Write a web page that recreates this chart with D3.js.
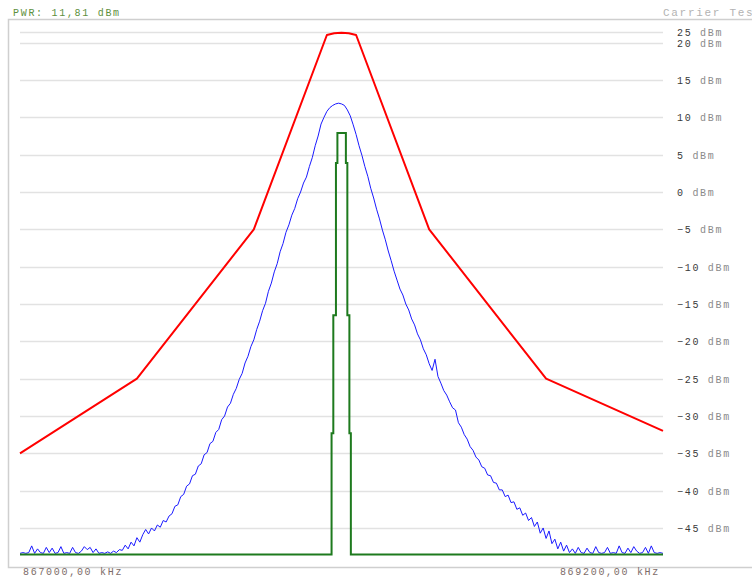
<!DOCTYPE html>
<html>
<head>
<meta charset="utf-8">
<script src="https://cdn.jsdelivr.net/npm/d3@7"></script>
<style>
  html, body { margin: 0; padding: 0; background: #fff; }
  svg { display: block; }
  text { font-family: "Liberation Mono", "DejaVu Sans Mono", monospace; font-size: 10px; letter-spacing: 1.7px; }
</style>
</head>
<body>
<div id="chart"></div>
<script>
// ---- data ----
const freqStart = 867000;
const freqStop = 869200;
const yTickValues = [25, 20, 15, 10, 5, 0, -5, -10, -15, -20, -25, -30, -35, -40, -45];
const xTickValues = [867000, 869200];
const xTickLabels = ["867000,00 kHz", "869200,00 kHz"];
const titleLeft = "PWR: 11,81 dBm";
const titleRight = "Carrier Test";

// limit mask (red)
const maskFreq  = [867000, 867400, 867800, 868050, 868075, 868100, 868125, 868150, 868400, 868800, 869200];
const maskLevel = [-35, -25, -5, 23.6, 24.4, 24.7, 24.4, 23.6, -5, -25, -32];

// measured spectrum (blue), one value every 10 kHz from 867000 kHz
const traceStepKHz = 10;
const traceLevel = [
  -48.4,-48.3,-48.4,-48.3,-47.4,-48.4,-47.8,-48.3,-48.4,-47.6,
  -48.3,-47.7,-48.4,-48.3,-47.5,-48.4,-48.3,-48.4,-47.6,-48.3,
  -48.4,-48.1,-47.5,-47.9,-47.6,-48.3,-47.8,-48.4,-48.3,-48.4,
  -48.2,-48.4,-48.1,-48.3,-47.9,-48.0,-47.3,-47.8,-46.9,-47.4,
  -46.3,-46.9,-45.9,-45.2,-45.8,-45.0,-45.4,-44.6,-44.9,-44.0,
  -44.2,-43.4,-43.1,-42.1,-41.9,-40.8,-40.5,-39.4,-39.1,-38.0,
  -37.8,-36.7,-36.4,-35.2,-34.9,-33.7,-33.4,-32.2,-31.8,-30.5,
  -30.0,-28.8,-28.3,-27.1,-26.3,-25.1,-24.3,-22.9,-22.0,-20.7,
  -19.8,-18.4,-17.3,-15.9,-14.9,-13.3,-12.2,-10.7,-9.6,-8.0,
  -6.9,-5.4,-4.4,-3.1,-2.2,-0.9,0.0,1.2,2.0,3.4,
  4.6,6.2,7.5,9.1,10.0,10.8,11.3,11.6,11.8,11.9,
  11.8,11.6,11.0,10.2,9.0,7.7,6.2,4.9,3.4,2.1,
  0.5,-0.8,-2.3,-3.6,-5.1,-6.4,-7.9,-9.2,-10.6,-11.8,
  -13.0,-13.8,-15.0,-15.8,-17.0,-17.8,-19.0,-19.8,-21.0,-21.8,
  -23.0,-23.9,-22.4,-24.7,-25.6,-26.6,-27.2,-28.1,-28.9,-29.2,
  -30.9,-31.5,-32.5,-33.1,-34.1,-34.6,-35.5,-35.9,-36.8,-37.0,
  -37.9,-38.0,-38.9,-39.0,-39.9,-39.9,-40.8,-40.6,-41.6,-41.5,
  -42.5,-42.3,-43.3,-43.0,-44.0,-43.6,-44.8,-44.2,-45.7,-45.0,
  -46.4,-45.4,-47.1,-46.5,-47.8,-46.9,-48.1,-47.3,-48.3,-47.8,
  -48.4,-47.6,-48.3,-48.4,-47.7,-48.3,-48.4,-47.5,-48.3,-48.4,
  -48.3,-47.6,-48.4,-48.3,-48.4,-47.4,-48.3,-48.4,-47.7,-48.3,
  -47.5,-48.1,-48.4,-48.3,-47.6,-48.4,-47.4,-48.3,-48.4,-48.3,
  -48.4
];

// carrier (green)
const carrierFreq  = [867000, 868066, 868066, 868072, 868072, 868081, 868081, 868086, 868086, 868115, 868115, 868120, 868120, 868127, 868127, 868132, 868132, 869200];
const carrierLevel = [-48.55, -48.55, -32.3, -32.3, -16.5, -16.5, 3.9, 3.9, 7.9, 7.9, 3.9, 3.9, -16.5, -16.5, -32.3, -32.3, -48.55, -48.55];

// ---- drawing ----
const W = 752, H = 580;
const svg = d3.select("#chart").append("svg").attr("width", W).attr("height", H);

const x = d3.scaleLinear().domain([freqStart, freqStop]).range([20, 663]);
const y = d3.scaleLinear().domain([-50, 20, 25]).range([565.3, 42.7, 32]);

// frame
svg.append("path")
  .attr("d", "M752,19.5H8.5V567.5H752")
  .attr("fill", "none").attr("stroke", "#cfcfcf").attr("stroke-width", 1.5);

// grid
const yAxis = d3.axisRight(y).tickValues(yTickValues).tickSize(0).tickFormat("");
const gGrid = svg.append("g");
gGrid.selectAll("line").data(yTickValues).join("line")
  .attr("x1", x.range()[0]).attr("x2", x.range()[1])
  .attr("y1", d => Math.round(y(d)) + 0.5).attr("y2", d => Math.round(y(d)) + 0.5)
  .attr("stroke", "#e2e2e2").attr("stroke-width", 1.5);

// y labels
const gY = svg.append("g").attr("transform", "translate(677,0)").call(yAxis);
gY.select(".domain").remove();
gY.selectAll(".tick text").remove();
gY.selectAll(".tick").append("text")
  .attr("x", 0).attr("dy", "0.35em").attr("text-anchor", "start")
  .each(function(d) {
    const t = d3.select(this);
    t.append("tspan").attr("fill", "#3a3a3a").text((d < 0 ? "\u2212" + Math.abs(d) : d) + " ");
    t.append("tspan").attr("fill", "#8a8a8a").text("dBm");
  });

// x labels
const gX = svg.append("g");
gX.selectAll("text").data(xTickValues).join("text")
  .attr("x", (d, i) => i === 0 ? x(d) + 3 : x(d) - 3)
  .attr("y", 571).attr("dy", "0.35em")
  .attr("text-anchor", (d, i) => i === 0 ? "start" : "end")
  .attr("fill", "#7d6c68")
  .text((d, i) => xTickLabels[i]);

// titles
svg.append("text").attr("x", 13).attr("y", 12).attr("dy", "0.35em")
  .attr("fill", "#5d8f3c").text(titleLeft);
svg.append("text").attr("x", 663).attr("y", 12).attr("dy", "0.35em")
  .attr("fill", "#b3b3b3").style("font-size", "11px").text(titleRight);

// lines
const line = d3.line().x(d => x(d[0])).y(d => y(d[1]));

svg.append("path")
  .datum(maskFreq.map((f, i) => [f, maskLevel[i]]))
  .attr("d", line).attr("fill", "none")
  .attr("stroke", "#ff0000").attr("stroke-width", 2).attr("stroke-linejoin", "round");

svg.append("path")
  .datum(traceLevel.map((v, i) => [freqStart + i * traceStepKHz, v]))
  .attr("d", line).attr("fill", "none")
  .attr("stroke", "#1a1aff").attr("stroke-width", 1);

svg.append("path")
  .datum(carrierFreq.map((f, i) => [f, carrierLevel[i]]))
  .attr("d", line).attr("fill", "none")
  .attr("stroke", "#1e7a1e").attr("stroke-width", 2);
</script>
</body>
</html>
